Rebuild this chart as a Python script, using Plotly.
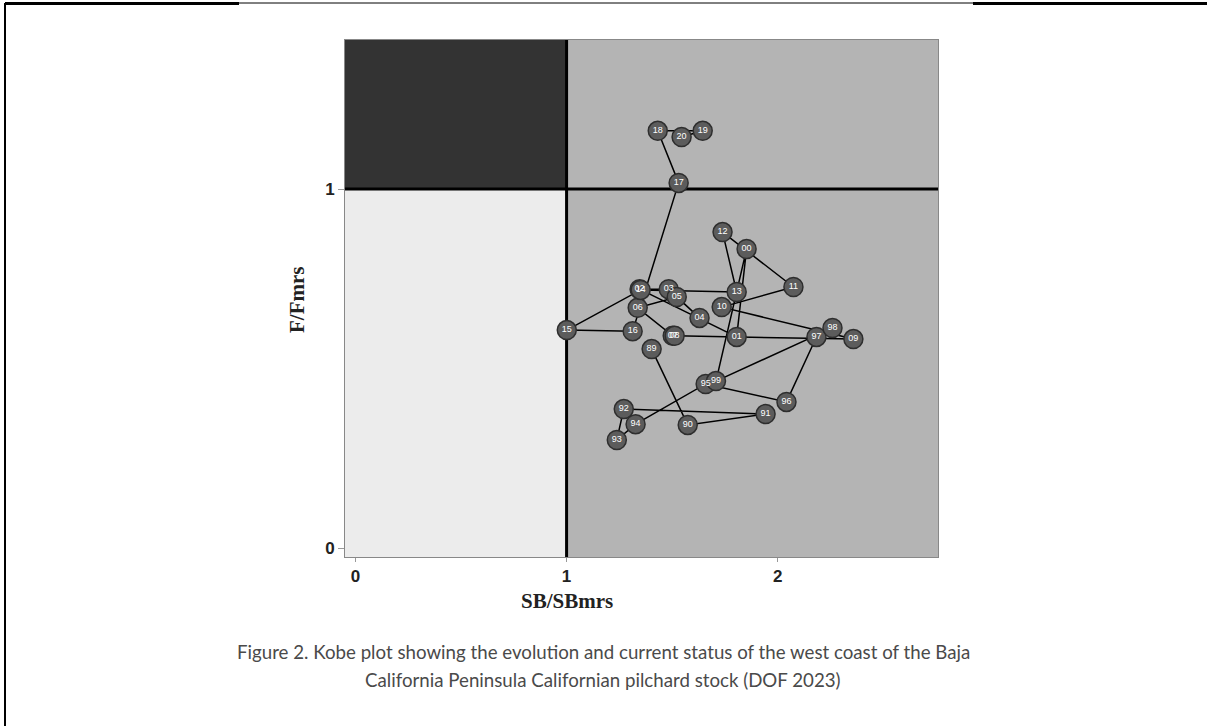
import plotly.graph_objects as go

# ---- data ----
years = ["89", "90", "91", "92", "93", "94", "95", "96", "97", "98", "99",
         "00", "01", "02", "03", "04", "05", "06", "07", "08", "09", "10",
         "11", "12", "13", "14", "15", "16", "17", "18", "19", "20"]
sb_ratio = [1.403, 1.574, 1.943, 1.271, 1.238, 1.327, 1.659, 2.042, 2.184, 2.260, 1.708,
            1.853, 1.806, 1.346, 1.484, 1.630, 1.522, 1.337, 1.503, 1.512, 2.359, 1.735,
            2.075, 1.739, 1.806, 1.351, 1.001, 1.313, 1.531, 1.432, 1.645, 1.545]
f_ratio = [0.554, 0.343, 0.373, 0.387, 0.301, 0.345, 0.457, 0.407, 0.588, 0.613, 0.465,
           0.833, 0.588, 0.721, 0.721, 0.641, 0.699, 0.669, 0.591, 0.591, 0.582, 0.671,
           0.727, 0.880, 0.713, 0.719, 0.607, 0.604, 1.017, 1.162, 1.162, 1.145]
x_ticks = [0, 1, 2]
y_ticks = [0, 1]
x_title = "SB/SBmrs"
y_title = "F/Fmrs"
caption = ["Figure 2. Kobe plot showing the evolution and current status of the west coast of the Baja",
           "California Peninsula Californian pilchard stock (DOF 2023)"]

W, H = 1207, 726
ML, MR, MT, MB = 345, 269, 40, 169
PW, PH = W - ML - MR, H - MT - MB
XR = [-0.05, 2.76]
YR = [-0.025, 1.415]


def px(x):
    return (x - ML) / PW


def py(y):
    return (H - MB - y) / PH


fig = go.Figure()
fig.add_trace(go.Scatter(
    x=sb_ratio, y=f_ratio, text=years,
    mode="lines+markers+text",
    line=dict(color="black", width=1.5),
    marker=dict(size=19, color="#5c5c5c", line=dict(color="#2e2e2e", width=1.5)),
    textposition="middle center",
    textfont=dict(color="white", size=9, family="Liberation Sans, Arial"),
    hoverinfo="x+y+text",
    showlegend=False,
    cliponaxis=False,
))

shapes = [
    # quadrants
    dict(type="rect", xref="x", yref="y", x0=XR[0], x1=1, y0=YR[0], y1=1,
         fillcolor="#ececec", line=dict(width=0), layer="below"),
    dict(type="rect", xref="x", yref="y", x0=XR[0], x1=1, y0=1, y1=YR[1],
         fillcolor="#333333", line=dict(width=0), layer="below"),
    # reference lines
    dict(type="line", xref="x", yref="y", x0=1, x1=1, y0=YR[0], y1=YR[1],
         line=dict(color="black", width=3), layer="below"),
    dict(type="line", xref="x", yref="y", x0=XR[0], x1=XR[1], y0=1, y1=1,
         line=dict(color="black", width=3), layer="below"),
    # page frame
    dict(type="line", xref="paper", yref="paper", x0=px(5), x1=px(5), y0=py(3), y1=py(730),
         line=dict(color="black", width=2)),
    dict(type="line", xref="paper", yref="paper", x0=px(5), x1=px(239), y0=py(3.5), y1=py(3.5),
         line=dict(color="black", width=3)),
    dict(type="line", xref="paper", yref="paper", x0=px(239), x1=px(973), y0=py(3), y1=py(3),
         line=dict(color="black", width=1)),
    dict(type="line", xref="paper", yref="paper", x0=px(973), x1=px(1210), y0=py(3.5), y1=py(3.5),
         line=dict(color="black", width=3)),
]

serif = dict(family="Liberation Serif, Times New Roman, serif", size=21, color="#222", weight="bold")
annotations = [
    dict(text=x_title, xref="paper", yref="paper", x=px(567), y=py(601),
         showarrow=False, xanchor="center", yanchor="middle", font=serif),
    dict(text=y_title, xref="paper", yref="paper", x=px(297), y=py(300),
         showarrow=False, xanchor="center", yanchor="middle", textangle=-90, font=serif),
    dict(text=caption[0], xref="paper", yref="paper", x=px(603), y=py(652),
         showarrow=False, xanchor="center", yanchor="middle",
         font=dict(family="Lato, Noto Sans, sans-serif", size=18.7, color="#4a4a4a")),
    dict(text=caption[1], xref="paper", yref="paper", x=px(603), y=py(680),
         showarrow=False, xanchor="center", yanchor="middle",
         font=dict(family="Lato, Noto Sans, sans-serif", size=18.7, color="#4a4a4a")),
]

tickfont = dict(family="Liberation Sans Narrow, Liberation Sans, Arial", size=17, color="#222", weight="bold")

fig.update_layout(
    width=W, height=H,
    margin=dict(l=ML, r=MR, t=MT, b=MB),
    paper_bgcolor="white",
    plot_bgcolor="#b4b4b4",
    shapes=shapes,
    annotations=annotations,
    xaxis=dict(range=XR, tickvals=x_ticks, ticktext=[str(v) for v in x_ticks],
               showgrid=False, zeroline=False, showline=True, linecolor="#888", linewidth=1,
               mirror=True, ticks="outside", ticklen=4, tickcolor="#999",
               tickfont=tickfont, fixedrange=True),
    yaxis=dict(range=YR, tickvals=y_ticks, ticktext=[str(v) for v in y_ticks],
               showgrid=False, zeroline=False, showline=True, linecolor="#888", linewidth=1,
               mirror=True, ticks="outside", ticklen=6, tickcolor="#999",
               tickfont=tickfont, fixedrange=True),
)

fig.write_html("out.html", config={"displayModeBar": False},
               post_script="document.body.style.margin='0px';")
